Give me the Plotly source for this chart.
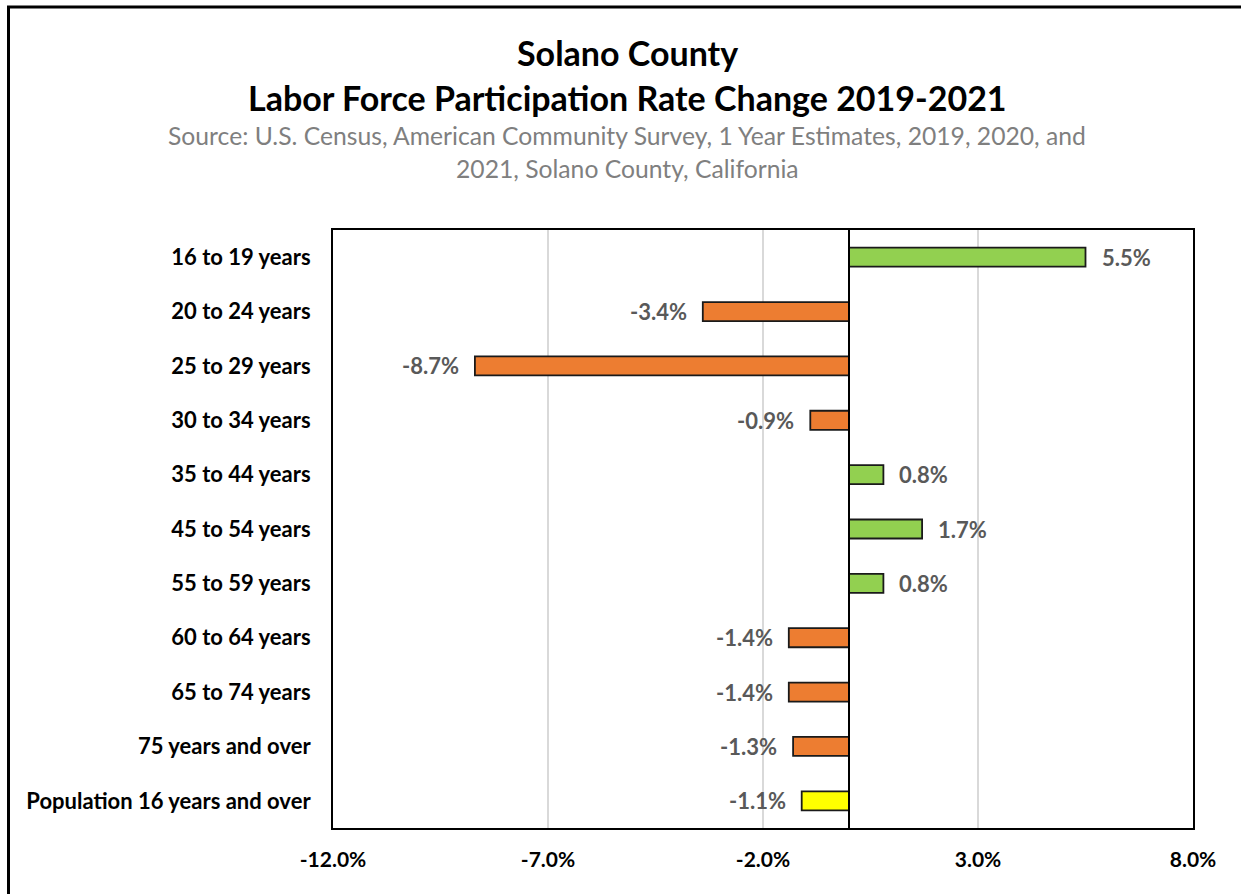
import plotly.graph_objects as go

categories = ["16 to 19 years", "20 to 24 years", "25 to 29 years", "30 to 34 years",
              "35 to 44 years", "45 to 54 years", "55 to 59 years", "60 to 64 years",
              "65 to 74 years", "75 years and over", "Population 16 years and over"]
values = [5.5, -3.4, -8.7, -0.9, 0.8, 1.7, 0.8, -1.4, -1.4, -1.3, -1.1]
colors = ["#92D050", "#ED7D31", "#ED7D31", "#ED7D31", "#92D050", "#92D050", "#92D050",
          "#ED7D31", "#ED7D31", "#ED7D31", "#FFFF00"]
tick_vals = [-12, -7, -2, 3, 8]
tick_text = ["-12.0%", "-7.0%", "-2.0%", "3.0%", "8.0%"]

W, H = 1241, 894
L, R, T, B = 333, 48, 230, 66
pw, ph = W - L - R, H - T - B
FONT = "Lato"

def px_x(p):
    return (p - L) / pw

def px_y(p):
    return (H - B - p) / ph

fig = go.Figure()
fig.add_trace(go.Bar(
    y=categories, x=values, orientation="h",
    marker=dict(color=colors, line=dict(color="#1a1a1a", width=1.8)),
    width=0.35, hoverinfo="x+y"
))

for c, v in zip(categories, values):
    fig.add_annotation(
        x=v, y=c, xref="x", yref="y", text=f"{v:.1f}%", showarrow=False,
        xanchor="left" if v >= 0 else "right",
        xshift=14 if v >= 0 else -14,
        font=dict(family=FONT, size=22, color="#595959", weight="bold"),
    )

# Titles
cx = px_x(627)
fig.add_annotation(x=cx, y=px_y(52), xref="paper", yref="paper", text="<b>Solano County</b>",
                   showarrow=False, yanchor="middle", font=dict(family=FONT, size=34, color="#000000"))
fig.add_annotation(x=cx, y=px_y(98), xref="paper", yref="paper",
                   text="<b>Labor Force Participation Rate Change 2019-2021</b>",
                   showarrow=False, yanchor="middle", font=dict(family=FONT, size=34, color="#000000"))
fig.add_annotation(x=cx, y=px_y(135), xref="paper", yref="paper",
                   text="Source: U.S. Census, American Community Survey, 1 Year Estimates, 2019, 2020, and",
                   showarrow=False, yanchor="middle", font=dict(family=FONT, size=24.7, color="#7f7f7f"))
fig.add_annotation(x=cx, y=px_y(168), xref="paper", yref="paper",
                   text="2021, Solano County, California",
                   showarrow=False, yanchor="middle", font=dict(family=FONT, size=24.7, color="#7f7f7f"))

# Outer frame
fig.add_shape(type="rect", xref="paper", yref="paper",
              x0=px_x(8.5), x1=px_x(1250), y0=px_y(905), y1=px_y(7),
              line=dict(color="#000000", width=3), fillcolor="rgba(0,0,0,0)", layer="below")
# Zero line
fig.add_shape(type="line", xref="x", yref="paper", x0=0, x1=0, y0=0, y1=1,
              line=dict(color="#000000", width=2))

fig.update_layout(
    width=W, height=H, margin=dict(l=L, r=R, t=T, b=B),
    plot_bgcolor="white", paper_bgcolor="white", showlegend=False,
    xaxis=dict(range=[-12, 8], tickvals=tick_vals, ticktext=tick_text,
               showgrid=True, gridcolor="#D9D9D9", gridwidth=2, zeroline=False,
               showline=True, linecolor="#000000", linewidth=2, mirror=True,
               ticks="", ticklabelstandoff=12,
               tickfont=dict(family=FONT, size=21, color="#000000", weight="bold")),
    yaxis=dict(autorange="reversed", showgrid=False, zeroline=False,
               showline=True, linecolor="#000000", linewidth=2, mirror=True,
               ticks="", ticklabelstandoff=16,
               tickfont=dict(family=FONT, size=22, color="#000000", weight="bold")),
)

fig.write_html("out.html", config={"displayModeBar": False},
               post_script="document.body.style.margin='0';document.body.style.overflow='hidden';")
